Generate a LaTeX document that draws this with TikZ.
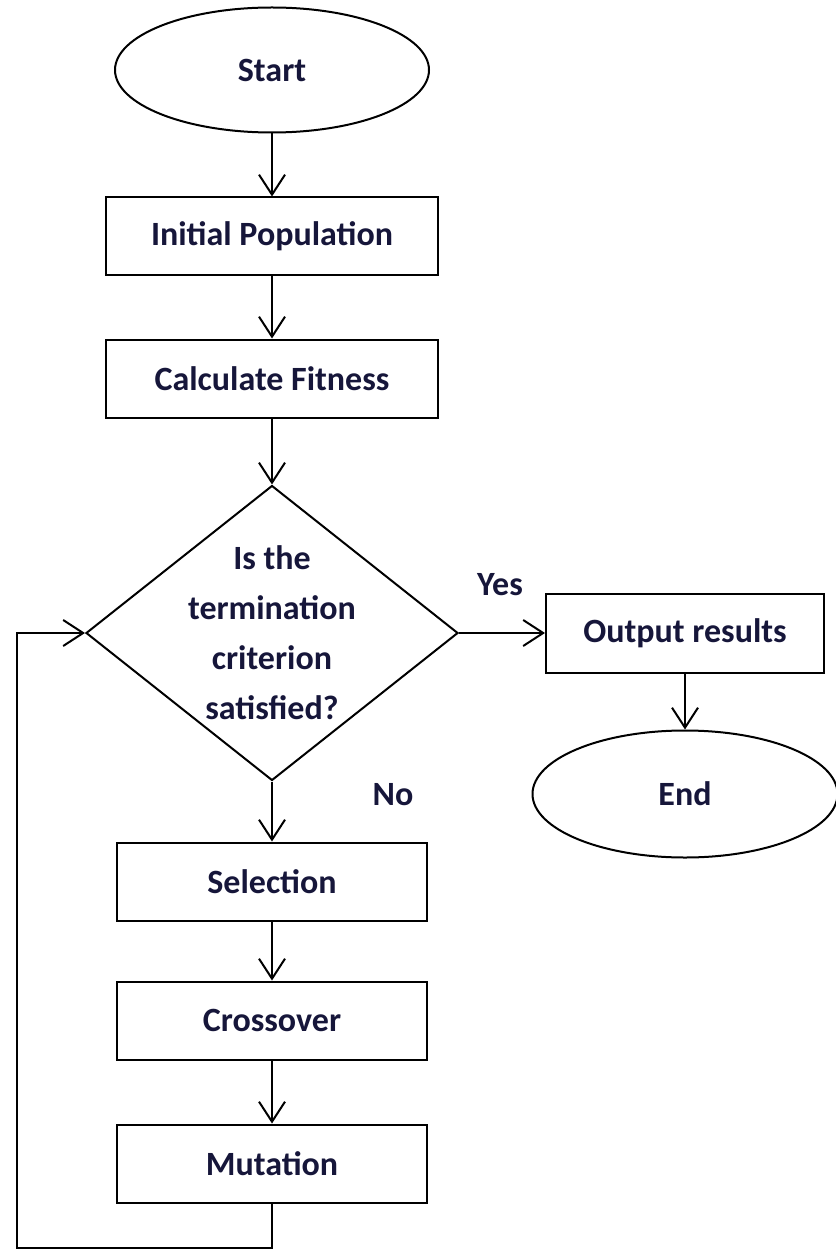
\documentclass[tikz,border=0pt]{standalone}
\usepackage{fontspec}
\setmainfont{Carlito}
\usetikzlibrary{positioning,shapes.geometric,arrows.meta}
\definecolor{textnavy}{RGB}{22,22,58}
\tikzset{
  terminal/.style={draw, ellipse, minimum width=157pt, minimum height=62.5pt},
  process/.style={draw, rectangle, minimum width=166pt, minimum height=39pt},
  gastep/.style={draw, rectangle, minimum width=155pt, minimum height=39pt},
  decision/.style={draw, diamond, minimum width=186pt, minimum height=147.5pt, inner sep=0pt},
  flow/.style={-{Straight Barb[length=10pt,width=13pt]}},
}

\begin{document}
\begin{tikzpicture}
      [x=0.5pt, y=-0.5pt, line width=1pt, node distance=31pt,
       every node/.style={align=center, text=textnavy, font=\fontsize{17}{25}\selectfont\bfseries}]
      \useasboundingbox (0,0) rectangle (835,1251);
      \node (start) [terminal] at (272,70) {Start};
      \node (init) [process, below=31.5pt of start] {Initial Population};
      \node (fitness) [process, below=of init] {Calculate Fitness};
      \node (test) [decision, below=33pt of fitness] {};
      \node (testtext) at (test.center) {Is the\\termination\\criterion\\satisfied?};
      \node (selection) [gastep, below=30pt of test] {Selection};
      \node (crossover) [gastep, below=29.5pt of selection] {Crossover};
      \node (mutation) [gastep, below=31.5pt of crossover] {Mutation};
      \node (output) [draw, minimum width=139pt, minimum height=39.5pt, right=43pt of test] {Output results};
      \node (end) [terminal, minimum width=152.5pt, minimum height=63.5pt, below=28pt of output] {End};
      \node (yes) at (500,585) {Yes};
      \node (no) at (393,795) {No};
      \coordinate (loopcorner) at (17,1248);
      % main flow
      \draw[flow] (start) -- (init);
      \draw[flow] (init) -- (fitness);
      \draw[flow] (fitness) -- (test);
      \draw[flow] (test) -- (selection);
      \draw[flow] (selection) -- (crossover);
      \draw[flow] (crossover) -- (mutation);
      \draw[flow] (test) -- (output);
      \draw[flow] (output) -- (end);
      % back to the test
      \draw[flow] (mutation.south) |- (loopcorner) |- (test.west);
    \end{tikzpicture}
\end{document}
